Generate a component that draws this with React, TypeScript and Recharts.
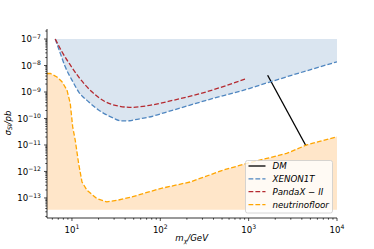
import React from 'react';
import { ComposedChart, Line, Area, XAxis, YAxis, Legend } from 'recharts';

// ---- data ----
const xenonMass = [6.47, 7.38, 8.4, 10, 11.9, 15.4, 20, 28.3, 36.7, 45, 51.9, 67.3, 141, 335, 1035, 1343, 10000];
const xenonSigma = [1.0e-7, 2.88e-8, 8.9e-9, 2.82e-9, 1.02e-9, 4.27e-10, 2.09e-10, 1.1e-10, 8.1e-11, 8.2e-11, 9.1e-11, 1.05e-10, 2.09e-10, 4.9e-10, 1.38e-9, 1.82e-9, 1.38e-8];

const pandaMass = [6.47, 7.71, 9.57, 11.9, 16.8, 23.8, 33.6, 47.6, 67.3, 141, 335, 908];
const pandaSigma = [1.0e-7, 3.3e-8, 1.05e-8, 3.7e-9, 1.02e-9, 4.3e-10, 2.95e-10, 2.63e-10, 2.95e-10, 4.9e-10, 1.02e-9, 3.1e-9];

const floorMass = [5.22, 5.69, 6.76, 7.71, 8.79, 9.57, 10.2, 10.9, 11.9, 13.0, 14.8, 19.1, 24.8, 32.2, 45.6, 100, 217, 513, 948, 2690, 4520, 10000];
const floorSigma = [5.0e-9, 5.0e-9, 3.7e-9, 2.45e-9, 1.17e-9, 3.7e-10, 4.8e-11, 1.5e-11, 2.0e-12, 4.0e-13, 1.95e-13, 9.5e-14, 7.1e-14, 8.1e-14, 1.05e-13, 2.26e-13, 4.0e-13, 1.12e-12, 2.0e-12, 4.8e-12, 1.0e-11, 2.04e-11];

const dmMass = [1640, 4450];
const dmSigma = [4.3e-9, 9.3e-12];

const excludedTop = 1e-7;
const floorBottom = 3.6e-14;

const xDomain = [5.22, 1e4];
const yDomain = [1.75e-14, 2.39e-7];

const seriesNames = ['DM', 'XENON1T', 'PandaX − II', 'neutrinofloor'];
const seriesColors = ['#000000', '#4f86c0', '#b52a30', '#ffa500'];

// ---- derived tables ----
const xenonData = xenonMass.map((m, i) => ({ m, s: xenonSigma[i], band: [xenonSigma[i], excludedTop] }));
const pandaData = pandaMass.map((m, i) => ({ m, s: pandaSigma[i] }));
const floorData = floorMass.map((m, i) => ({ m, s: floorSigma[i], band: [floorBottom, floorSigma[i]] }));
const dmData = dmMass.map((m, i) => ({ m, s: dmSigma[i] }));

function minorTicks(lo: number, hi: number): number[] {
  const out: number[] = [];
  for (let e = Math.floor(Math.log10(lo)); e <= Math.ceil(Math.log10(hi)); e++) {
    for (let k = 1; k <= 9; k++) {
      const v = k * Math.pow(10, e);
      if (v >= lo && v <= hi) out.push(v);
    }
  }
  return out;
}
const xTicks = minorTicks(xDomain[0], xDomain[1]);
const yTicks = minorTicks(yDomain[0], yDomain[1]);

const FONT = 'DejaVu Sans';

function isMajor(v: number) {
  const l = Math.log10(v);
  return Math.abs(l - Math.round(l)) < 1e-6;
}
function expText(v: number) {
  const e = Math.round(Math.log10(v));
  return e < 0 ? '\u2212' + Math.abs(e) : String(e);
}

const XTick = (props: any) => {
  const { x, y, payload } = props;
  const v = payload.value;
  const major = isMajor(v);
  return (
    <g>
      <line x1={x} x2={x} y1={y} y2={y + (major ? 3 : 1.7)} stroke="#000" strokeWidth={0.7} />
      {major && (
        <text x={x} y={y + 14.5} textAnchor="middle" fontSize={8.6} fontFamily={FONT} fill="#000">
          10<tspan dy={-3.6} fontSize={6.1}>{expText(v)}</tspan>
        </text>
      )}
    </g>
  );
};

const YTick = (props: any) => {
  const { x, y, payload } = props;
  const v = payload.value;
  const major = isMajor(v);
  return (
    <g>
      <line x1={x} x2={x - (major ? 3 : 1.7)} y1={y} y2={y} stroke="#000" strokeWidth={0.7} />
      {major && (
        <text x={x - 6} y={y + 3.3} textAnchor="end" fontSize={8.6} fontFamily={FONT} fill="#000">
          10<tspan dy={-3.6} fontSize={6.1}>{expText(v)}</tspan>
        </text>
      )}
    </g>
  );
};

const DASH = '4.8 2.1';

const LegendBox = () => (
  <svg width={88} height={54} style={{ display: 'block' }}>
    <rect x={0.5} y={0.5} width={87} height={52.5} rx={2} ry={2} fill="#ffffff" fillOpacity={0.8} stroke="#cccccc" strokeWidth={0.8} />
    {seriesNames.map((name, i) => {
      const cy = 6 + i * 12.85;
      return (
        <g key={name}>
          <line x1={3.5} x2={20.5} y1={cy} y2={cy} stroke={seriesColors[i]} strokeWidth={1.3}
            strokeDasharray={i === 0 ? undefined : DASH} />
          <text x={27.5} y={cy + 3.1} fontSize={8.7} fontStyle="italic" fontFamily={FONT} fill="#000">{name}</text>
        </g>
      );
    })}
  </svg>
);

export default function App() {
  return (
    <div style={{ position: 'absolute', left: 0, top: 0, width: 374, height: 249, background: '#fff' }}>
      <ComposedChart width={374} height={249} margin={{ top: 29, right: 37, left: 0, bottom: 0 }}>
        <XAxis dataKey="m" type="number" scale="log" domain={xDomain} allowDataOverflow
          ticks={xTicks} interval={0} tick={<XTick />} tickLine={false} tickSize={0} tickMargin={0}
          height={31} axisLine={{ stroke: '#000', strokeWidth: 0.8 }} />
        <XAxis xAxisId="top" orientation="top" type="number" domain={[0, 1]} height={0}
          tick={false} tickLine={false} axisLine={{ stroke: '#000', strokeWidth: 0.8 }} />
        <YAxis type="number" scale="log" domain={yDomain} allowDataOverflow
          ticks={yTicks} interval={0} tick={<YTick />} tickLine={false} tickSize={0} tickMargin={0}
          width={47} axisLine={{ stroke: '#000', strokeWidth: 0.8 }} />
        <YAxis yAxisId="right" orientation="right" type="number" domain={[0, 1]} width={0}
          tick={false} tickLine={false} axisLine={{ stroke: '#000', strokeWidth: 0.8 }} />

        <Area data={xenonData} dataKey="band" type="monotone" fill="#dae5f0" fillOpacity={1} stroke="none"
          isAnimationActive={false} legendType="none" />
        <Area data={floorData} dataKey="band" type="linear" fill="#ffe6c9" fillOpacity={1} stroke="none"
          isAnimationActive={false} legendType="none" />

        <Line data={dmData} dataKey="s" name="DM" stroke={seriesColors[0]} strokeWidth={1.3} dot={false}
          activeDot={false} isAnimationActive={false} />
        <Line data={xenonData} dataKey="s" name="XENON1T" type="monotone" stroke={seriesColors[1]} strokeWidth={1.3}
          strokeDasharray={DASH} dot={false} activeDot={false} isAnimationActive={false} />
        <Line data={pandaData} dataKey="s" name="PandaX − II" type="monotone" stroke={seriesColors[2]} strokeWidth={1.3}
          strokeDasharray={DASH} dot={false} activeDot={false} isAnimationActive={false} />
        <Line data={floorData} dataKey="s" name="neutrinofloor" type="linear" stroke={seriesColors[3]} strokeWidth={1.3}
          strokeDasharray={DASH} dot={false} activeDot={false} isAnimationActive={false} />

        <Legend layout="horizontal" verticalAlign="middle" align="center" content={() => <LegendBox />}
          wrapperStyle={{ position: 'absolute', left: 245, top: 160, width: 88, height: 54, margin: 0 }} />

        <text x={10.5} y={123} transform="rotate(-90 10.5 123)" textAnchor="middle" fontSize={8.6} fontFamily={FONT}
          fontStyle="italic" fill="#000">
          σ<tspan dy={1.8} fontSize={6.1}>SI</tspan><tspan dy={-1.8}>/pb</tspan>
        </text>
        <text x={191.7} y={241} textAnchor="middle" fontSize={8.6} fontFamily={FONT} fontStyle="italic" fill="#000">
          m<tspan dy={1.8} fontSize={6.1}>χ</tspan><tspan dy={-1.8}>/GeV</tspan>
        </text>
      </ComposedChart>
    </div>
  );
}
